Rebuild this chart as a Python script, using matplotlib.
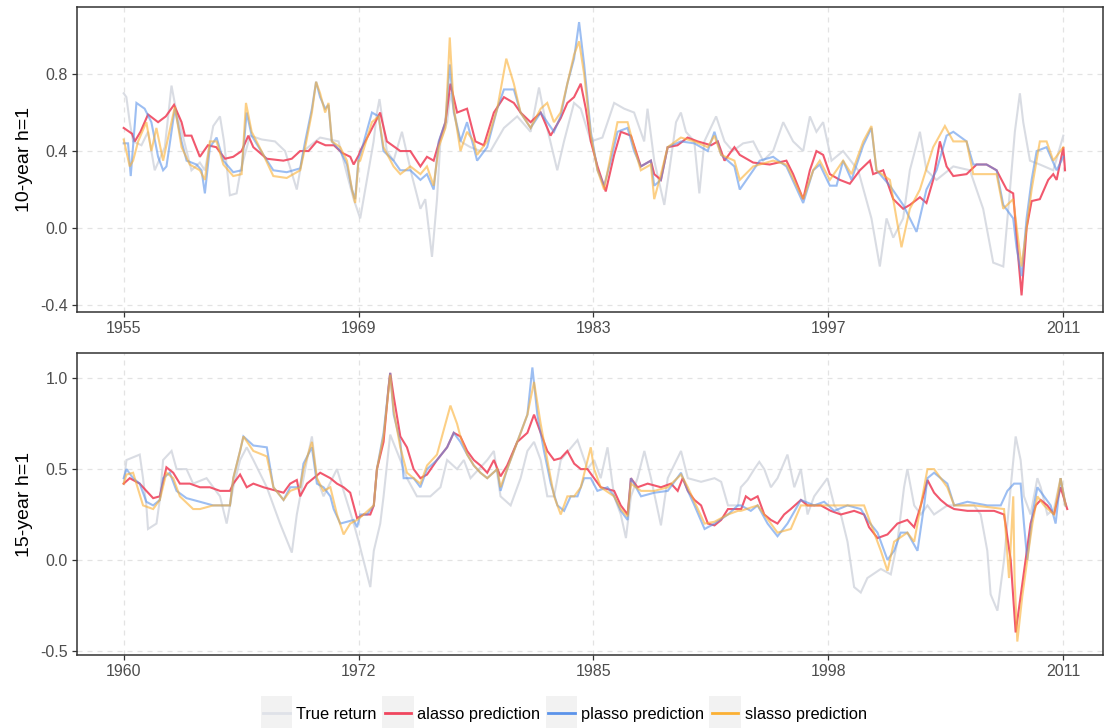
#prediction vs true return, 10-year and 15-year, h=1

import numpy as np
import matplotlib
matplotlib.use('Agg')
import matplotlib.pyplot as plt
from matplotlib.legend_handler import HandlerLine2D
from matplotlib.patches import Rectangle
from matplotlib.lines import Line2D

plt.rcParams['font.family'] = ['Liberation Sans', 'DejaVu Sans']


# --- 10-year h=1 ---
yr_true_10 = [1955.0,1955.16,1955.36,1955.56,1956.06,1956.45,1956.85,1957.45,1957.85,1958.15,1958.55,1959.04,1959.54,1959.84,
              1960.34,1960.74,1960.98,1961.33,1961.73,1961.97,1962.53,1963.23,1964.02,1964.62,1965.32,1965.72,1966.71,1967.81,
              1968.31,1968.71,1969.10,1969.50,1969.90,1970.10,1970.25,1970.69,1971.09,1971.59,1972.19,1972.69,1972.98,1973.38,
              1973.68,1973.88,1974.28,1974.48,1975.08,1975.67,1976.27,1976.87,1977.67,1978.46,1979.26,1979.76,1980.16,1980.85,
              1981.25,1981.85,1982.25,1982.85,1983.54,1984.24,1984.84,1985.43,1986.03,1986.23,1986.63,1987.23,1987.53,1987.93,
              1988.22,1988.52,1989.02,1989.32,1989.62,1990.32,1990.82,1991.31,1991.93,1992.53,1993.12,1993.72,1994.32,1994.91,
              1995.51,1995.91,1996.30,1996.70,1997.20,1997.89,1998.79,1999.58,2000.08,2000.48,2000.88,2001.47,2001.87,2002.47,
              2002.86,2003.46,2004.46,2005.45,2006.24,2006.84,2007.44,2007.84,2008.13,2008.43,2008.63,2009.03,2009.62,2010.42,
              2011.02]
true_10 = [0.70,0.68,0.55,0.45,0.43,0.50,0.30,0.42,0.74,0.60,0.47,0.30,0.34,0.30,
           0.53,0.58,0.45,0.17,0.18,0.30,0.48,0.46,0.45,0.40,0.20,0.40,0.47,0.45,
           0.28,0.15,0.05,0.25,0.45,0.60,0.67,0.40,0.35,0.50,0.27,0.10,0.15,-0.15,
           0.15,0.45,0.55,0.70,0.45,0.42,0.40,0.40,0.52,0.58,0.50,0.73,0.55,0.30,
           0.45,0.65,0.62,0.45,0.47,0.65,0.62,0.60,0.45,0.62,0.35,0.12,0.30,0.55,
           0.60,0.50,0.45,0.18,0.45,0.58,0.45,0.40,0.44,0.45,0.35,0.40,0.55,0.45,
           0.40,0.58,0.50,0.55,0.35,0.40,0.30,0.05,-0.20,0.05,-0.05,0.05,0.30,0.50,
           0.30,0.25,0.32,0.30,0.10,-0.18,-0.20,0.20,0.50,0.70,0.55,0.35,0.33,0.30,
           0.48]

yr_alasso_10 = [1955.0,1955.5,1955.66,1956.0,1956.45,1957.05,1957.51,1958.0,1958.45,1958.65,1959.04,1959.54,1960.02,1960.52,
                1961.04,1961.53,1962.03,1962.43,1962.73,1963.53,1964.52,1965.02,1965.52,1966.02,1966.51,1967.03,1967.53,1968.03,
                1968.51,1968.71,1969.02,1969.10,1969.70,1970.29,1970.69,1971.49,1972.09,1972.69,1973.08,1973.48,1973.88,1974.18,
                1974.48,1974.88,1975.47,1975.97,1976.47,1977.07,1977.67,1978.26,1978.66,1979.26,1979.86,1980.45,1981.05,1981.45,
                1981.85,1982.25,1982.55,1982.85,1983.25,1983.74,1984.24,1984.64,1985.24,1985.83,1986.43,1986.63,1987.03,1987.43,
                1988.02,1988.62,1989.22,1990.02,1990.42,1990.82,1991.41,1991.73,1992.53,1993.52,1994.51,1994.91,1995.51,1995.91,
                1996.30,1996.70,1997.10,1997.70,1998.29,1998.89,1999.49,1999.68,2000.28,2000.88,2001.47,2001.87,2002.47,2002.86,
                2003.26,2003.66,2004.06,2004.46,2005.25,2005.85,2006.44,2007.04,2007.64,2008.03,2008.33,2008.53,2008.83,2009.13,
                2009.62,2010.12,2010.42,2010.62,2011.02,2011.12]
alasso_10 = [0.52,0.49,0.45,0.50,0.59,0.55,0.58,0.64,0.55,0.48,0.48,0.37,0.43,0.42,
             0.36,0.37,0.40,0.48,0.42,0.36,0.35,0.36,0.40,0.40,0.45,0.43,0.43,0.39,
             0.37,0.33,0.38,0.40,0.50,0.60,0.45,0.40,0.40,0.32,0.37,0.35,0.47,0.55,
             0.75,0.60,0.62,0.45,0.43,0.60,0.68,0.65,0.60,0.55,0.60,0.48,0.57,0.65,
             0.68,0.75,0.62,0.45,0.32,0.19,0.38,0.50,0.48,0.32,0.35,0.28,0.25,0.42,
             0.43,0.47,0.45,0.43,0.45,0.35,0.42,0.38,0.34,0.33,0.35,0.28,0.15,0.30,
             0.40,0.38,0.28,0.25,0.23,0.30,0.35,0.28,0.30,0.15,0.10,0.12,0.16,0.13,
             0.25,0.45,0.32,0.27,0.28,0.33,0.33,0.30,0.20,0.18,-0.15,-0.35,0.00,0.14,
             0.15,0.25,0.28,0.25,0.42,0.30]

yr_plasso_10 = [1955.0,1955.26,1955.42,1955.76,1956.25,1956.65,1957.05,1957.35,1957.55,1958.05,1958.45,1958.75,1959.34,1959.64,
                1959.84,1960.14,1960.54,1960.94,1961.53,1962.03,1962.33,1962.63,1963.33,1963.92,1964.72,1965.52,1965.82,1966.22,
                1966.47,1966.71,1967.01,1967.21,1967.41,1967.91,1968.31,1968.61,1968.80,1969.00,1969.10,1969.80,1970.20,1970.49,
                1971.09,1971.49,1972.09,1972.69,1973.08,1973.48,1973.78,1974.18,1974.44,1974.68,1975.08,1975.47,1975.87,1976.07,
                1976.67,1977.27,1977.67,1978.26,1978.66,1979.26,1979.86,1980.65,1981.05,1981.45,1981.85,1982.15,1982.45,1982.85,
                1983.25,1983.64,1984.04,1984.44,1985.04,1985.43,1985.83,1986.43,1986.63,1987.03,1987.43,1988.22,1989.02,1989.82,
                1990.22,1990.62,1991.41,1991.73,1992.53,1992.92,1993.72,1994.51,1995.51,1996.11,1996.50,1997.10,1997.50,1997.89,
                1998.39,1999.09,1999.58,1999.88,2000.68,2001.47,2001.87,2002.27,2002.86,2003.46,2004.06,2004.46,2005.25,2005.65,
                2006.44,2007.04,2007.44,2008.03,2008.23,2008.53,2008.83,2009.13,2009.43,2010.02,2010.62,2011.02]
plasso_10 = [0.44,0.44,0.27,0.65,0.62,0.55,0.37,0.30,0.32,0.62,0.45,0.35,0.33,0.30,
             0.18,0.42,0.47,0.35,0.29,0.30,0.60,0.48,0.38,0.30,0.29,0.31,0.45,0.62,
             0.76,0.68,0.62,0.64,0.45,0.40,0.33,0.20,0.15,0.36,0.38,0.60,0.58,0.40,
             0.35,0.30,0.30,0.25,0.28,0.20,0.45,0.55,0.85,0.60,0.45,0.55,0.42,0.35,
             0.42,0.62,0.72,0.72,0.60,0.52,0.60,0.50,0.58,0.75,0.88,1.07,0.85,0.50,
             0.30,0.22,0.35,0.50,0.52,0.40,0.32,0.35,0.22,0.25,0.42,0.45,0.44,0.40,
             0.50,0.38,0.32,0.20,0.30,0.35,0.37,0.32,0.13,0.30,0.33,0.22,0.22,0.35,
             0.25,0.43,0.52,0.30,0.22,0.12,0.05,-0.02,0.20,0.30,0.48,0.50,0.45,0.33,
             0.33,0.30,0.12,0.05,-0.10,-0.25,0.05,0.25,0.40,0.42,0.30,0.37]

yr_slasso_10 = [1955.0,1955.36,1955.56,1955.86,1956.35,1956.65,1956.95,1957.35,1958.05,1958.45,1958.94,1959.54,1959.84,1960.14,
                1960.54,1960.94,1961.53,1962.03,1962.29,1962.63,1963.33,1963.92,1964.72,1965.52,1965.82,1966.22,1966.47,1966.71,
                1967.01,1967.21,1967.41,1967.91,1968.31,1968.61,1968.80,1969.00,1969.10,1969.80,1970.20,1970.49,1971.09,1971.49,
                1972.09,1972.69,1973.08,1973.48,1973.78,1974.18,1974.44,1974.68,1975.08,1975.47,1975.87,1976.07,1976.67,1977.27,
                1977.81,1978.26,1978.66,1979.26,1979.86,1980.25,1980.65,1981.05,1981.45,1981.85,1982.15,1982.45,1982.85,1983.25,
                1983.64,1984.04,1984.44,1985.04,1985.43,1985.83,1986.43,1986.63,1987.03,1987.43,1988.22,1989.02,1989.82,1990.22,
                1990.62,1991.41,1991.73,1992.53,1993.72,1994.51,1995.51,1996.11,1996.50,1997.10,1997.89,1998.39,1999.09,1999.58,
                1999.88,2000.68,2001.37,2001.87,2002.47,2003.26,2003.96,2004.46,2005.25,2005.65,2007.04,2007.44,2008.03,2008.53,
                2009.13,2009.62,2010.02,2010.42,2011.02]
slasso_10 = [0.46,0.32,0.35,0.45,0.55,0.40,0.52,0.35,0.63,0.42,0.33,0.30,0.25,0.45,
             0.45,0.33,0.27,0.28,0.65,0.50,0.38,0.27,0.26,0.30,0.42,0.60,0.76,0.70,
             0.60,0.65,0.45,0.42,0.35,0.20,0.13,0.35,0.35,0.55,0.58,0.42,0.32,0.28,
             0.32,0.28,0.32,0.22,0.42,0.52,0.99,0.62,0.40,0.50,0.45,0.38,0.45,0.62,
             0.88,0.75,0.60,0.52,0.62,0.65,0.55,0.60,0.75,0.90,0.97,0.80,0.48,0.30,
             0.20,0.38,0.55,0.55,0.42,0.30,0.33,0.15,0.28,0.42,0.47,0.45,0.42,0.48,
             0.38,0.35,0.25,0.32,0.35,0.33,0.15,0.30,0.35,0.25,0.35,0.28,0.45,0.53,
             0.30,0.25,-0.10,0.10,0.20,0.42,0.53,0.45,0.45,0.28,0.28,0.10,0.15,-0.20,
             0.20,0.45,0.45,0.35,0.42]

# --- 15-year h=1 ---
yr_true_15 = [1960.0,1960.15,1960.87,1961.05,1961.23,1961.32,1961.78,1961.96,1962.14,1962.60,1962.87,1963.41,1963.77,1964.50,
              1965.23,1965.59,1965.95,1966.32,1966.68,1967.04,1967.77,1968.49,1969.13,1969.40,1969.95,1970.22,1970.49,1970.85,
              1971.58,1971.94,1972.49,1972.76,1973.39,1973.58,1973.93,1974.11,1974.47,1975.02,1975.38,1975.92,1976.65,1977.20,
              1977.56,1978.10,1978.47,1978.83,1979.74,1980.10,1980.46,1981.01,1981.55,1981.92,1982.28,1982.64,1983.00,1983.37,
              1983.73,1984.64,1985.18,1985.54,1985.90,1986.27,1986.63,1986.99,1987.27,1987.54,1987.90,1988.27,1988.63,1989.17,
              1989.54,1990.26,1990.63,1991.35,1992.08,1992.44,1992.81,1993.35,1993.51,1993.87,1994.24,1994.51,1994.78,1995.14,
              1995.50,1996.04,1996.41,1996.77,1997.13,1997.49,1998.21,1998.58,1998.94,1999.30,1999.66,2000.02,2000.38,2001.11,
              2001.65,2002.01,2002.37,2002.55,2002.92,2003.28,2003.64,2004.00,2004.72,2006.17,2006.53,2006.89,2007.07,2007.44,
              2007.80,2008.16,2008.43,2008.70,2008.88,2009.24,2009.61,2009.79,2010.15,2010.51,2010.87,2011.14]
true_15 = [0.42,0.55,0.58,0.45,0.30,0.17,0.20,0.33,0.55,0.60,0.50,0.50,0.42,0.45,
           0.35,0.20,0.40,0.55,0.62,0.55,0.40,0.20,0.04,0.25,0.55,0.68,0.45,0.35,
           0.50,0.38,0.20,0.10,-0.15,0.05,0.20,0.35,0.69,0.55,0.45,0.35,0.35,0.40,
           0.55,0.50,0.55,0.45,0.55,0.60,0.35,0.30,0.45,0.60,0.65,0.55,0.35,0.35,
           0.55,0.66,0.50,0.55,0.45,0.62,0.35,0.25,0.12,0.35,0.45,0.60,0.45,0.19,
           0.45,0.60,0.45,0.43,0.45,0.43,0.30,0.30,0.40,0.44,0.50,0.54,0.50,0.40,
           0.45,0.58,0.40,0.50,0.25,0.35,0.45,0.30,0.25,0.10,-0.15,-0.18,-0.10,-0.05,
           -0.08,0.10,0.40,0.50,0.30,0.25,0.30,0.25,0.30,0.30,0.25,0.05,-0.19,-0.28,
           0.00,0.40,0.68,0.55,0.35,0.25,0.45,0.40,0.25,0.28,0.45,0.30]

yr_alasso_15 = [1960.0,1960.33,1960.87,1961.23,1961.60,1961.96,1962.32,1962.69,1963.05,1963.59,1964.14,1964.68,1965.23,1965.77,
                1965.95,1966.32,1966.68,1967.04,1967.59,1968.31,1968.68,1969.04,1969.40,1969.58,1969.95,1970.31,1970.67,1971.22,
                1971.58,1971.94,1972.30,1972.67,1973.03,1973.39,1973.58,1973.75,1974.11,1974.38,1974.47,1974.66,1975.02,1975.38,
                1975.74,1976.11,1976.47,1977.01,1977.56,1977.92,1978.28,1978.65,1979.01,1979.37,1979.74,1980.10,1980.46,1980.82,
                1981.37,1981.92,1982.28,1982.64,1983.00,1983.37,1983.73,1984.09,1984.46,1984.82,1985.18,1985.54,1985.90,1986.63,
                1986.99,1987.36,1987.54,1987.90,1988.45,1989.17,1989.72,1990.08,1990.35,1990.63,1990.99,1991.35,1991.72,1992.08,
                1992.44,1992.81,1993.53,1993.78,1994.05,1994.42,1994.78,1995.14,1995.50,1995.86,1996.22,1996.77,1997.13,1997.85,
                1998.39,1998.94,1999.66,2000.20,2000.47,2000.93,2001.47,2002.01,2002.55,2002.92,2003.28,2003.64,2004.00,2004.36,
                2004.72,2005.09,2005.81,2007.26,2007.80,2008.16,2008.43,2008.70,2008.97,2009.24,2009.52,2009.79,2010.15,2010.51,
                2010.87,2011.23]
alasso_15 = [0.42,0.45,0.42,0.38,0.34,0.35,0.51,0.48,0.42,0.42,0.40,0.40,0.38,0.38,
             0.42,0.47,0.40,0.42,0.40,0.38,0.37,0.42,0.44,0.35,0.42,0.45,0.48,0.45,
             0.42,0.40,0.37,0.23,0.25,0.25,0.30,0.50,0.65,0.95,1.03,0.90,0.68,0.62,
             0.50,0.45,0.47,0.55,0.62,0.70,0.68,0.60,0.55,0.52,0.48,0.55,0.46,0.52,
             0.65,0.70,0.80,0.70,0.60,0.55,0.56,0.60,0.53,0.50,0.50,0.45,0.40,0.38,
             0.30,0.25,0.45,0.40,0.42,0.40,0.42,0.38,0.45,0.38,0.33,0.30,0.20,0.19,
             0.22,0.28,0.28,0.35,0.33,0.35,0.25,0.22,0.20,0.25,0.28,0.33,0.30,0.30,
             0.27,0.25,0.27,0.25,0.18,0.12,0.14,0.20,0.22,0.18,0.30,0.44,0.37,0.33,
             0.30,0.28,0.27,0.27,0.25,0.00,-0.40,-0.20,0.00,0.20,0.30,0.33,0.30,0.25,
             0.40,0.28]

yr_plasso_15 = [1960.0,1960.15,1960.51,1960.87,1961.23,1961.60,1961.96,1962.14,1962.50,1962.87,1963.41,1964.14,1964.86,1965.77,
                1965.95,1966.32,1966.50,1967.04,1967.77,1968.13,1968.68,1969.04,1969.58,1969.76,1970.22,1970.49,1970.85,1971.22,
                1971.40,1971.76,1972.49,1972.67,1972.85,1973.21,1973.58,1973.75,1974.11,1974.47,1974.66,1975.02,1975.20,1975.74,
                1976.11,1976.47,1977.01,1977.56,1977.92,1978.28,1978.65,1979.01,1979.37,1979.74,1980.28,1980.46,1980.82,1981.37,
                1981.92,1982.19,1982.46,1982.82,1983.19,1983.55,1983.91,1984.27,1984.64,1985.00,1985.36,1985.72,1986.27,1986.63,
                1986.99,1987.36,1987.54,1988.09,1988.81,1989.54,1990.26,1990.63,1990.99,1991.54,1992.08,1992.81,1993.35,1993.51,
                1994.05,1994.42,1994.96,1995.50,1996.04,1996.77,1997.49,1998.03,1998.58,1999.30,2000.02,2000.38,2000.93,2001.47,
                2001.83,2002.19,2002.55,2003.10,2003.46,2003.64,2004.00,2004.36,2004.72,2005.09,2005.81,2006.89,2007.62,2007.98,
                2008.34,2008.70,2008.88,2009.06,2009.34,2009.61,2009.97,2010.33,2010.60,2010.87,2011.14]
plasso_15 = [0.45,0.50,0.45,0.42,0.32,0.30,0.33,0.45,0.48,0.38,0.34,0.32,0.30,0.30,
             0.45,0.60,0.68,0.63,0.62,0.40,0.33,0.40,0.40,0.53,0.62,0.42,0.40,0.35,
             0.28,0.20,0.22,0.18,0.25,0.25,0.30,0.50,0.70,1.03,0.80,0.65,0.45,0.45,
             0.40,0.50,0.55,0.62,0.70,0.65,0.58,0.52,0.48,0.45,0.50,0.38,0.50,0.65,
             0.80,1.06,0.80,0.60,0.42,0.30,0.27,0.35,0.35,0.45,0.45,0.38,0.40,0.35,
             0.27,0.22,0.45,0.35,0.37,0.38,0.48,0.38,0.30,0.17,0.20,0.25,0.30,0.30,
             0.27,0.30,0.20,0.13,0.20,0.33,0.30,0.32,0.27,0.30,0.28,0.22,0.15,0.00,
             0.05,0.15,0.15,0.05,0.30,0.45,0.48,0.45,0.42,0.30,0.32,0.30,0.30,0.38,
             0.42,0.42,0.20,0.00,0.25,0.40,0.35,0.30,0.20,0.45,0.30]

yr_slasso_15 = [1960.0,1960.15,1960.51,1961.05,1961.60,1961.96,1962.32,1962.69,1963.05,1963.77,1964.14,1964.86,1965.77,1965.95,
                1966.32,1966.50,1967.04,1967.77,1968.13,1968.68,1969.04,1969.58,1969.76,1970.22,1970.49,1970.85,1971.22,1971.58,
                1971.94,1972.30,1972.67,1973.03,1973.58,1973.75,1974.11,1974.47,1974.66,1975.02,1975.38,1975.74,1976.11,1976.47,
                1977.01,1977.74,1978.10,1978.28,1978.65,1979.01,1979.37,1979.74,1980.28,1980.46,1980.82,1981.37,1981.92,1982.28,
                1982.64,1983.00,1983.37,1983.73,1984.09,1984.46,1984.82,1985.36,1985.54,1985.90,1986.63,1986.99,1987.36,1987.54,
                1988.09,1988.81,1989.54,1990.26,1990.63,1990.99,1991.54,1992.08,1992.81,1993.35,1993.51,1994.42,1995.50,1996.22,
                1996.77,1998.21,1999.30,2000.20,2000.56,2001.11,2001.47,2001.83,2002.55,2002.92,2003.28,2003.64,2004.00,2004.36,
                2004.72,2005.09,2006.17,2007.80,2008.07,2008.30,2008.37,2008.52,2008.79,2009.06,2009.34,2009.61,2009.97,2010.51,
                2010.87,2011.14]
slasso_15 = [0.42,0.47,0.48,0.30,0.28,0.33,0.48,0.45,0.35,0.28,0.28,0.30,0.30,0.45,
             0.60,0.68,0.60,0.57,0.40,0.33,0.38,0.40,0.50,0.65,0.45,0.38,0.40,0.25,
             0.14,0.20,0.22,0.25,0.30,0.50,0.68,1.02,0.82,0.62,0.48,0.45,0.42,0.52,
             0.58,0.85,0.75,0.68,0.58,0.52,0.48,0.45,0.50,0.40,0.50,0.65,0.80,0.98,
             0.75,0.55,0.35,0.25,0.35,0.35,0.40,0.62,0.50,0.40,0.35,0.28,0.24,0.42,
             0.38,0.38,0.40,0.47,0.40,0.32,0.20,0.21,0.25,0.27,0.27,0.30,0.15,0.17,
             0.30,0.30,0.30,0.30,0.20,0.05,-0.06,0.10,0.15,0.10,0.30,0.50,0.50,0.45,
             0.40,0.30,0.30,0.28,-0.10,0.35,-0.10,-0.45,-0.20,0.00,0.20,0.35,0.30,0.25,
             0.45,0.30]

labels = ['True return', 'alasso prediction', 'plasso prediction', 'slasso prediction']
colors = ['#cdd1da', '#f0465e', '#5b93ea', '#fbb034']
alphas = [0.75, 0.9, 0.6, 0.6]

panels = [
    dict(name='10-year h=1', start=1955, end=2011,
         ticklabels=['1955', '1969', '1983', '1997', '2011'],
         yticks=[-0.4, 0.0, 0.4, 0.8], ylim=(-0.435, 1.15),
         series=[(yr_true_10, true_10), (yr_alasso_10, alasso_10),
                 (yr_plasso_10, plasso_10), (yr_slasso_10, slasso_10)]),
    dict(name='15-year h=1', start=1960, end=2011,
         ticklabels=['1960', '1972', '1985', '1998', '2011'],
         yticks=[-0.5, 0.0, 0.5, 1.0], ylim=(-0.524, 1.138),
         series=[(yr_true_15, true_15), (yr_alasso_15, alasso_15),
                 (yr_plasso_15, plasso_15), (yr_slasso_15, slasso_15)]),
]


#plotting

fig = plt.figure(figsize=(11.04, 7.28), dpi=100)
axes = [fig.add_axes([0.0695, 0.5718, 0.9296, 0.419]),
        fig.add_axes([0.0695, 0.1003, 0.9296, 0.4144])]

for ax, p in zip(axes, panels):
    for (xs, ys), c, a, lab in zip(p['series'], colors, alphas, labels):
        ax.plot(xs, ys, color=c, alpha=a, lw=1.5, label=lab, solid_joinstyle='miter')

    xt = np.linspace(p['start'], p['end'], 5)
    span = p['end'] - p['start']
    ax.set_xlim(p['start'] - 0.05 * span, p['end'] + 0.0426 * span)
    ax.set_xticks(xt)
    ax.set_xticklabels(p['ticklabels'])
    ax.set_yticks(p['yticks'])
    ax.set_yticklabels(['%.1f' % v for v in p['yticks']])
    ax.set_ylim(*p['ylim'])
    ax.set_ylabel(p['name'], fontsize=14, color='black', labelpad=5)

    ax.grid(True, color='#e3e3e3', linestyle=(0, (4, 4)), linewidth=0.9)
    ax.set_axisbelow(True)
    for s in ax.spines.values():
        s.set_color('#333333')
        s.set_linewidth(1.1)
    ax.tick_params(direction='out', length=3.5, width=0.9, color='#333333',
                   labelcolor='#4d4d4d', labelsize=11.5, pad=3)


#legend with grey key boxes like ggplot

class KeyHandler(HandlerLine2D):
    def create_artists(self, legend, orig_handle, xdescent, ydescent, width, height, fontsize, trans):
        box = Rectangle((-xdescent - 2, -ydescent - 8), width + 4, height + 16,
                        facecolor='#f2f2f2', edgecolor='none', transform=trans)
        arts = super().create_artists(legend, orig_handle, xdescent, ydescent, width, height, fontsize, trans)
        return [box] + list(arts)

handles = [Line2D([], [], color=c, lw=2) for c in colors]
handles[0].set_color('#dfe2e8')
fig.legend(handles, labels, loc='center', bbox_to_anchor=(565 / 1104, 0.019), ncol=4,
           frameon=False, fontsize=11.8, handlelength=1.6, handletextpad=0.38, columnspacing=0.5,
           handler_map={Line2D: KeyHandler()})

plt.savefig('out.png', dpi=100)
